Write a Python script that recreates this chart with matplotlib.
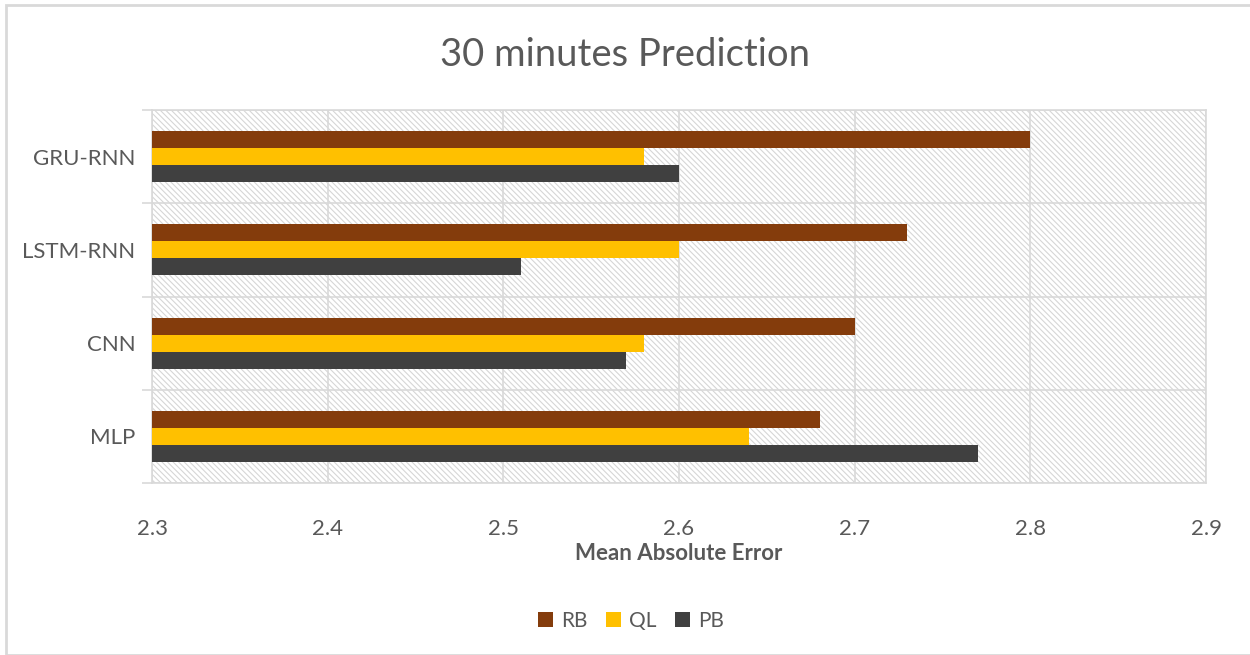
import numpy as np
import matplotlib.pyplot as plt
from matplotlib.patches import Rectangle

# data (bottom to top, as drawn)
models = ['MLP', 'CNN', 'LSTM-RNN', 'GRU-RNN']
rb = [2.68, 2.70, 2.73, 2.80]
ql = [2.64, 2.58, 2.60, 2.58]
pb = [2.77, 2.57, 2.51, 2.60]
ticks = [2.3, 2.4, 2.5, 2.6, 2.7, 2.8, 2.9]

plt.rcParams['font.family'] = ['Lato', 'DejaVu Sans']
plt.rcParams['hatch.linewidth'] = 0.8
txt = '#595959'
grid = '#d9d9d9'

fig = plt.figure(figsize=(12.5, 6.55), dpi=100)
ax = fig.add_axes([0.1216, 0.2626, 0.8432, 0.5694])

# hatched plot background
ax.add_patch(Rectangle((0, 0), 1, 1, transform=ax.transAxes, facecolor='white',
                       edgecolor='#d6d6d6', hatch='\\' * 6, linewidth=0, zorder=0))

y = np.arange(len(models))
h = 0.183
base = 2.3
ax.barh(y + h, np.array(rb) - base, left=base, height=h, color='#843C0C', label='RB', zorder=3)
ax.barh(y, np.array(ql) - base, left=base, height=h, color='#FFC000', label='QL', zorder=3)
ax.barh(y - h, np.array(pb) - base, left=base, height=h, color='#404040', label='PB', zorder=3)

ax.set_xlim(2.3, 2.9)
ax.set_ylim(-0.5, len(models) - 0.5)
ax.set_xticks(ticks)
ax.set_xticklabels([f'{t:.1f}' for t in ticks])
ax.set_yticks(y)
ax.set_yticklabels(models)
ax.set_yticks(np.arange(-0.5, len(models)), minor=True)

ax.tick_params(axis='x', length=0, pad=26, labelsize=16, colors=txt)
ax.tick_params(axis='y', which='major', length=0, pad=12, labelsize=16, colors=txt)
ax.tick_params(axis='y', which='minor', length=7, color=grid, width=1.2)
ax.grid(axis='x', which='major', color=grid, linewidth=1.2, zorder=1)
ax.grid(axis='y', which='minor', color=grid, linewidth=1.2, zorder=1)
ax.set_axisbelow(True)
for s in ax.spines.values():
    s.set_color(grid)
    s.set_linewidth(1.2)

ax.set_xlabel('Mean Absolute Error', fontsize=16, fontweight='bold', color=txt, labelpad=3)
fig.suptitle('30 minutes Prediction', fontsize=27.5, color=txt, y=0.944)

handles, labels = ax.get_legend_handles_labels()
fig.legend(handles, labels, loc='center', bbox_to_anchor=(0.505, 0.052), ncol=3,
           frameon=False, fontsize=15, labelcolor=txt, handlelength=0.7,
           handleheight=0.7, handletextpad=0.4, columnspacing=0.9)

# chart border
fig.add_artist(Rectangle((0.005, 0.0), 1.0, 0.992, transform=fig.transFigure,
                         fill=False, edgecolor=grid, linewidth=2))

fig.savefig('out.png', dpi=100)
